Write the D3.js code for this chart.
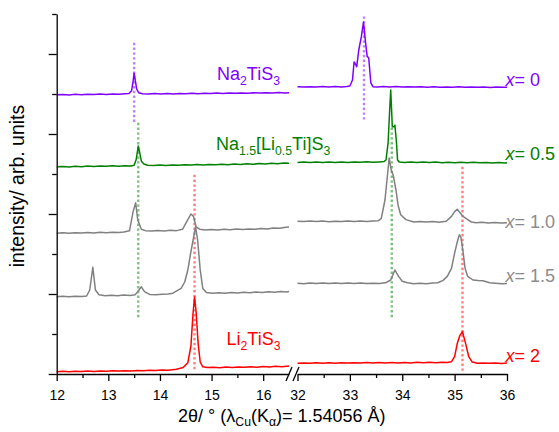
<!DOCTYPE html>
<html><head><meta charset="utf-8">
<script src="https://cdn.jsdelivr.net/npm/d3@7"></script>
<style>
body{margin:0;background:#fff}
svg{display:block;font-family:Arial,"Liberation Sans",Helvetica,sans-serif}
</style>
</head><body>
<svg id="c" width="559" height="432"></svg>
<script>
// ---------------- DATA (2θ in degrees, intensity in stacked arb. units) ----------------
const xTicksLeft = [12, 13, 14, 15, 16];
const xMinorLeft = [12.5, 13.5, 14.5, 15.5];
const xTicksRight = [32, 33, 34, 35, 36];
const xMinorRight = [32.5, 33.5, 34.5, 35.5];
const yMajor = [0, 1, 2, 3, 4];
const yMinor = [0.5, 1.5, 2.5, 3.5, 4.5];

// x = 0  (Na2TiS3)
const na2Left = [[12.00,3.490],[12.12,3.494],[12.24,3.489],[12.36,3.496],[12.48,3.492],[12.60,3.498],[12.72,3.493],[12.84,3.499],[12.96,3.495],[13.08,3.501],[13.20,3.496],[13.32,3.502],[13.40,3.505],[13.45,3.540],[13.48,3.660],[13.50,3.760],[13.52,3.680],[13.55,3.560],[13.59,3.515],[13.66,3.503],[13.78,3.499],[13.90,3.505],[14.02,3.500],[14.14,3.506],[14.26,3.501],[14.38,3.507],[14.50,3.503],[14.62,3.509],[14.74,3.504],[14.86,3.510],[14.98,3.505],[15.10,3.511],[15.22,3.507],[15.34,3.512],[15.46,3.508],[15.58,3.514],[15.70,3.509],[15.82,3.515],[15.94,3.511],[16.06,3.517],[16.18,3.512],[16.30,3.518],[16.42,3.514],[16.50,3.516]];
const na2Right = [[32.00,3.590],[32.12,3.586],[32.24,3.592],[32.36,3.587],[32.48,3.593],[32.60,3.588],[32.72,3.594],[32.84,3.589],[32.94,3.595],[33.00,3.600],[33.05,3.675],[33.08,3.900],[33.11,3.870],[33.13,3.840],[33.17,4.050],[33.22,4.220],[33.26,4.400],[33.30,4.140],[33.33,3.970],[33.36,3.950],[33.40,3.640],[33.44,3.592],[33.52,3.588],[33.64,3.594],[33.76,3.589],[33.88,3.593],[34.00,3.587],[34.12,3.592],[34.24,3.586],[34.36,3.591],[34.48,3.585],[34.60,3.590],[34.72,3.584],[34.84,3.589],[34.96,3.585],[35.08,3.590],[35.20,3.584],[35.32,3.588],[35.44,3.583],[35.56,3.587],[35.68,3.582],[35.80,3.587],[35.92,3.583],[36.00,3.585]];

// x = 0.5  (Na1.5[Li0.5Ti]S3)
const na15Left = [[12.00,2.590],[12.12,2.594],[12.24,2.589],[12.36,2.597],[12.48,2.592],[12.60,2.599],[12.72,2.594],[12.84,2.601],[12.96,2.596],[13.08,2.603],[13.20,2.598],[13.32,2.604],[13.44,2.600],[13.50,2.610],[13.54,2.680],[13.58,2.850],[13.61,2.760],[13.64,2.660],[13.69,2.625],[13.76,2.610],[13.88,2.606],[14.00,2.612],[14.12,2.607],[14.24,2.614],[14.36,2.609],[14.48,2.616],[14.60,2.611],[14.72,2.618],[14.84,2.613],[14.96,2.620],[15.08,2.615],[15.20,2.622],[15.32,2.617],[15.44,2.625],[15.56,2.619],[15.68,2.627],[15.80,2.622],[15.92,2.630],[16.04,2.625],[16.16,2.633],[16.28,2.628],[16.40,2.636],[16.50,2.634]];
const na15Right = [[32.00,2.645],[32.12,2.649],[32.24,2.643],[32.36,2.650],[32.48,2.644],[32.60,2.651],[32.72,2.645],[32.84,2.650],[32.96,2.644],[33.08,2.651],[33.20,2.646],[33.32,2.652],[33.44,2.646],[33.56,2.651],[33.65,2.655],[33.69,2.675],[33.73,2.890],[33.76,3.300],[33.78,3.550],[33.81,3.090],[33.84,3.090],[33.86,3.110],[33.89,2.890],[33.91,2.675],[33.94,2.650],[34.04,2.645],[34.16,2.651],[34.28,2.644],[34.40,2.650],[34.52,2.643],[34.64,2.649],[34.76,2.642],[34.88,2.648],[35.00,2.641],[35.12,2.647],[35.24,2.640],[35.36,2.646],[35.48,2.640],[35.60,2.645],[35.72,2.639],[35.84,2.644],[35.96,2.638],[36.00,2.641]];

// x = 1.0
const x10Left = [[12.00,1.760],[12.12,1.765],[12.24,1.759],[12.36,1.767],[12.48,1.762],[12.60,1.769],[12.72,1.764],[12.84,1.771],[12.96,1.766],[13.08,1.773],[13.20,1.768],[13.30,1.775],[13.41,1.790],[13.48,2.030],[13.53,2.140],[13.57,1.925],[13.64,1.810],[13.72,1.792],[13.84,1.787],[13.96,1.794],[14.08,1.789],[14.20,1.796],[14.32,1.792],[14.44,1.810],[14.54,1.930],[14.60,2.000],[14.65,1.970],[14.70,1.840],[14.77,1.810],[14.88,1.800],[15.00,1.806],[15.12,1.801],[15.24,1.808],[15.36,1.803],[15.48,1.811],[15.60,1.806],[15.72,1.814],[15.84,1.809],[15.96,1.818],[16.08,1.813],[16.20,1.826],[16.32,1.822],[16.44,1.834],[16.50,1.838]];
const x10Right = [[32.00,1.910],[32.12,1.906],[32.24,1.912],[32.36,1.905],[32.48,1.911],[32.60,1.904],[32.72,1.910],[32.84,1.905],[32.96,1.911],[33.08,1.906],[33.20,1.912],[33.32,1.907],[33.44,1.912],[33.54,1.915],[33.60,1.945],[33.67,2.175],[33.72,2.500],[33.75,2.700],[33.79,2.550],[33.83,2.480],[33.88,2.300],[33.92,2.110],[33.97,1.990],[34.07,1.930],[34.22,1.900],[34.34,1.906],[34.46,1.899],[34.58,1.905],[34.70,1.898],[34.84,1.910],[34.94,1.970],[35.00,2.030],[35.05,2.060],[35.10,2.020],[35.16,1.970],[35.25,1.930],[35.32,1.900],[35.41,1.890],[35.52,1.896],[35.64,1.889],[35.76,1.895],[35.88,1.888],[36.00,1.892]];

// x = 1.5
const x15Left = [[12.00,0.966],[12.12,0.971],[12.24,0.965],[12.36,0.973],[12.48,0.968],[12.58,0.975],[12.64,1.050],[12.70,1.334],[12.75,1.050],[12.82,0.990],[12.94,0.978],[13.06,0.984],[13.18,0.979],[13.30,0.987],[13.42,0.982],[13.52,0.990],[13.57,1.030],[13.64,1.090],[13.70,1.030],[13.80,0.995],[13.92,0.990],[14.04,0.997],[14.16,1.001],[14.25,1.010],[14.41,1.070],[14.48,1.150],[14.54,1.300],[14.60,1.530],[14.65,1.700],[14.69,1.840],[14.73,1.675],[14.78,1.300],[14.83,1.070],[14.90,1.020],[15.02,1.010],[15.14,1.016],[15.26,1.010],[15.38,1.018],[15.50,1.013],[15.62,1.021],[15.74,1.016],[15.86,1.024],[15.98,1.019],[16.10,1.027],[16.22,1.022],[16.34,1.030],[16.46,1.026],[16.50,1.030]];
const x15Right = [[32.00,1.134],[32.12,1.129],[32.24,1.136],[32.36,1.130],[32.48,1.137],[32.60,1.131],[32.72,1.138],[32.84,1.132],[32.96,1.137],[33.08,1.131],[33.20,1.136],[33.32,1.130],[33.44,1.135],[33.56,1.131],[33.68,1.140],[33.78,1.175],[33.86,1.300],[33.93,1.220],[34.00,1.160],[34.10,1.140],[34.22,1.128],[34.34,1.134],[34.46,1.128],[34.58,1.136],[34.68,1.140],[34.78,1.170],[34.86,1.220],[34.94,1.320],[35.00,1.510],[35.05,1.650],[35.09,1.740],[35.12,1.710],[35.16,1.530],[35.20,1.320],[35.25,1.220],[35.35,1.175],[35.45,1.168],[35.54,1.165],[35.67,1.140],[35.78,1.135],[35.90,1.128],[36.00,1.132]];

// x = 2  (Li2TiS3)
const li2Left = [[12.00,0.029],[12.12,0.033],[12.24,0.028],[12.36,0.035],[12.48,0.031],[12.60,0.037],[12.72,0.032],[12.84,0.039],[12.96,0.034],[13.08,0.040],[13.20,0.036],[13.32,0.042],[13.44,0.038],[13.56,0.045],[13.68,0.041],[13.80,0.047],[13.92,0.043],[14.04,0.050],[14.16,0.046],[14.32,0.059],[14.45,0.080],[14.54,0.140],[14.60,0.350],[14.64,0.750],[14.67,0.962],[14.70,0.780],[14.74,0.380],[14.78,0.150],[14.83,0.090],[14.92,0.080],[15.04,0.084],[15.16,0.079],[15.28,0.086],[15.40,0.081],[15.52,0.088],[15.64,0.083],[15.76,0.090],[15.88,0.085],[16.00,0.093],[16.12,0.088],[16.24,0.096],[16.36,0.092],[16.50,0.100]];
const li2Right = [[32.00,0.135],[32.12,0.139],[32.24,0.133],[32.36,0.140],[32.48,0.134],[32.60,0.141],[32.72,0.135],[32.84,0.142],[32.96,0.136],[33.08,0.142],[33.20,0.137],[33.32,0.143],[33.44,0.137],[33.56,0.144],[33.68,0.138],[33.80,0.144],[33.92,0.139],[34.04,0.145],[34.16,0.139],[34.28,0.146],[34.40,0.140],[34.52,0.146],[34.64,0.141],[34.76,0.147],[34.86,0.145],[34.94,0.154],[35.00,0.216],[35.05,0.380],[35.10,0.480],[35.15,0.530],[35.21,0.380],[35.27,0.216],[35.33,0.154],[35.43,0.134],[35.54,0.139],[35.66,0.133],[35.78,0.138],[35.90,0.132],[36.00,0.136]];

// dotted reference lines: [2θ, from, to]
const refNa2Left = [13.50, 3.14, 4.14];
const refNa2Right = [33.27, 3.15, 4.47];
const refNa15Left = [13.58, 0.68, 3.14];
const refNa15Right = [33.80, 0.68, 3.08];
const refLi2Left = [14.67, 0.03, 2.49];
const refLi2Right = [35.15, 0.03, 2.59];

// labels
const compNa2 = [["Na"],["2","sub"],["TiS"],["3","sub"]];
const compNa15 = [["Na"],["1.5","sub"],["[Li"],["0.5","sub"],["Ti]S"],["3","sub"]];
const compLi2 = [["Li"],["2","sub"],["TiS"],["3","sub"]];
const xLabels = ["0", "0.5", "1.0", "1.5", "2"];
const xLabelText = [["2θ/ ° (λ"],["Cu","sub"],["(K"],["α","sub"],[")= 1.54056 Å)"]];
const yLabelText = "intensity/ arb. units";

// ---------------- STYLE ----------------
const PURPLE = "#8000ff", GREEN = "#008000", GRAY = "#808080", RED = "#ff0000";
const LABELGRAY = "#8c8c8c";

const svg = d3.select("#c");
const xL = d3.scaleLinear().domain([12, 16.5]).range([56.7, 289]);
const xR = d3.scaleLinear().domain([32, 36]).range([297.5, 507]);
const y = d3.scaleLinear().domain([0, 4.5]).range([374, 14]);

// dotted reference lines (drawn under traces)
const refs = [
  [xL, refNa2Left, PURPLE], [xR, refNa2Right, PURPLE],
  [xL, refNa15Left, GREEN], [xR, refNa15Right, GREEN],
  [xL, refLi2Left, RED], [xR, refLi2Right, RED]
];
svg.append("g").selectAll("line").data(refs).join("line")
  .attr("x1", d => d[0](d[1][0])).attr("x2", d => d[0](d[1][0]))
  .attr("y1", d => y(d[1][2])).attr("y2", d => y(d[1][1]))
  .attr("stroke", d => d[2]).attr("stroke-opacity", 0.5)
  .attr("stroke-width", 2.4).attr("stroke-dasharray", "2.4,2.4");

// traces
const series = [
  {l: na2Left, r: na2Right, c: PURPLE},
  {l: na15Left, r: na15Right, c: GREEN},
  {l: x10Left, r: x10Right, c: GRAY},
  {l: x15Left, r: x15Right, c: GRAY},
  {l: li2Left, r: li2Right, c: RED}
];
const lineL = d3.line().x(d => xL(d[0])).y(d => y(d[1]));
const lineR = d3.line().x(d => xR(d[0])).y(d => y(d[1]));
const gT = svg.append("g").attr("fill", "none").attr("stroke-width", 1.5).attr("stroke-linejoin", "round");
series.forEach(s => {
  gT.append("path").attr("d", lineL(s.l)).attr("stroke", s.c);
  gT.append("path").attr("d", lineR(s.r)).attr("stroke", s.c);
});

// axes
function styleAxis(g) {
  g.selectAll("path,line").attr("stroke", "#000").attr("stroke-width", 1.3);
  g.selectAll("text").attr("font-size", 14).attr("fill", "#000").attr("font-family", "Arial, 'Liberation Sans', sans-serif");
}
const axY = y(0);
[[xL, xTicksLeft, xMinorLeft], [xR, xTicksRight, xMinorRight]].forEach(([sc, maj, mn]) => {
  svg.append("g").attr("transform", `translate(0,${axY})`)
    .call(d3.axisBottom(sc).tickValues(maj).tickSize(7).tickSizeOuter(0).tickPadding(9).tickFormat(d3.format("d")))
    .call(styleAxis);
  svg.append("g").attr("transform", `translate(0,${axY})`)
    .call(d3.axisBottom(sc).tickValues(mn).tickSize(4).tickFormat(""))
    .call(g => g.select(".domain").remove()).call(styleAxis);
});
const axX = xL.range()[0];
svg.append("g").attr("transform", `translate(${axX},0)`)
  .call(d3.axisLeft(y).tickValues(yMajor).tickSize(8).tickSizeOuter(0).tickFormat(""))
  .call(styleAxis);
svg.append("g").attr("transform", `translate(${axX},0)`)
  .call(d3.axisLeft(y).tickValues(yMinor).tickSize(4.5).tickFormat(""))
  .call(g => g.select(".domain").remove()).call(styleAxis);

// axis break marks
const bx = xL.range()[1];
[[-3, 3], [4, 10]].forEach(([a, b]) => {
  svg.append("line").attr("x1", bx + a).attr("y1", axY + 7).attr("x2", bx + b).attr("y2", axY - 7)
    .attr("stroke", "#000").attr("stroke-width", 1.3);
});

// rich text helper
function rich(x, yy, parts, color, size, anchor, subShift) {
  const t = svg.append("text").attr("x", x).attr("y", yy).attr("fill", color)
    .attr("font-size", size).attr("text-anchor", anchor || "start");
  let off = 0;
  const sh = subShift === undefined ? 0.28 : subShift;
  parts.forEach(p => {
    const sub = p[1] === "sub";
    const target = sub ? size * sh : 0;
    const ts = t.append("tspan").text(p[0]).attr("dy", target - off)
      .attr("font-size", sub ? size * 0.68 : size);
    if (p[1] === "it") ts.attr("font-style", "italic");
    off = target;
  });
  return t;
}

// compound labels
rich(217, 79.5, compNa2, PURPLE, 18);
rich(216, 150, compNa15, GREEN, 18);
rich(226.5, 345, compLi2, RED, 18);

// composition labels
const xlCols = [PURPLE, GREEN, LABELGRAY, LABELGRAY, RED];
const xlY = [86, 160, 227.5, 281.5, 361.5];
xLabels.forEach((v, i) => {
  rich(505.5, xlY[i], [["x","it"],["= " + v]], xlCols[i], 18);
});

// axis titles
rich((xL.range()[0] + xR.range()[1]) / 2, 422, xLabelText, "#000", 18, "middle", 0.22);
svg.append("text").attr("transform", "translate(24,186) rotate(-90)")
  .attr("text-anchor", "middle").attr("font-size", 19.5).attr("fill", "#000").text(yLabelText);
</script>
</body></html>
